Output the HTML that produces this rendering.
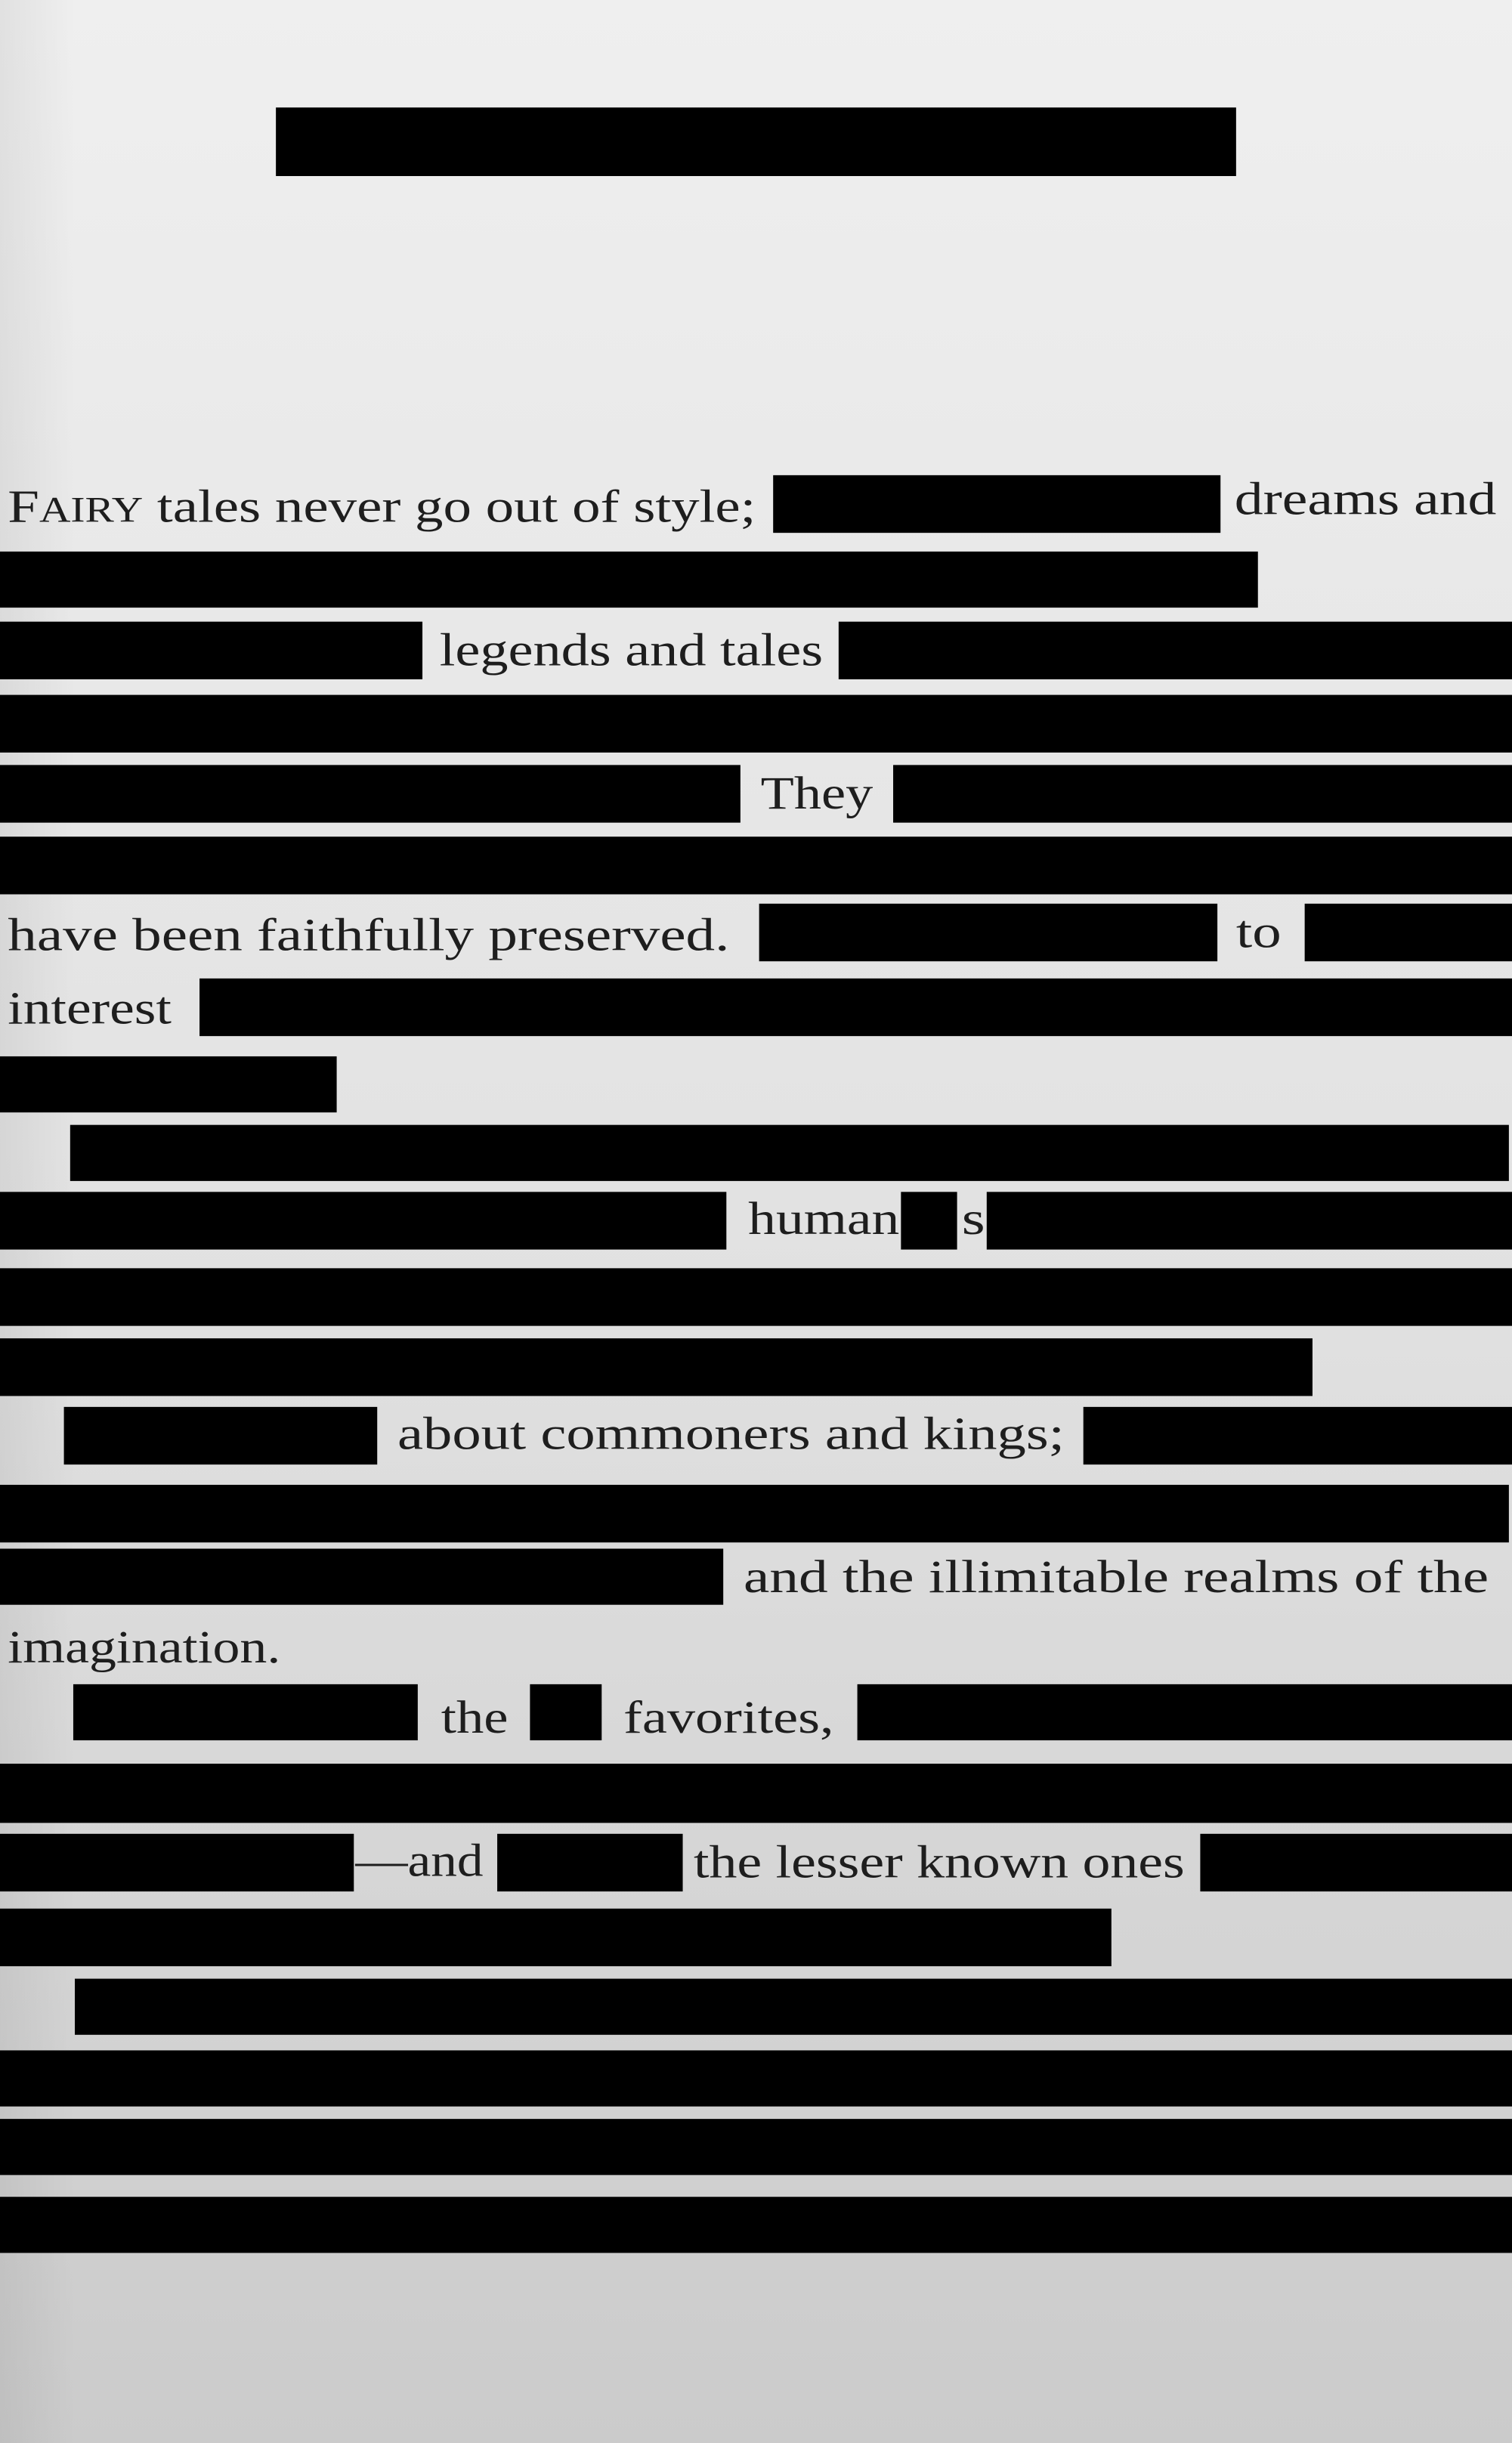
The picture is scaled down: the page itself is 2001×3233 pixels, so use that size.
<!DOCTYPE html>
<html><head><meta charset="utf-8"><style>
html,body{margin:0;padding:0;width:2001px;height:3233px;overflow:hidden;}
svg{display:block}
text{font-family:"Liberation Serif",serif;font-size:30px;fill:#1e1e1e}
</style></head><body>
<svg width="2001" height="3233" viewBox="0 0 970 1568" preserveAspectRatio="none" xmlns="http://www.w3.org/2000/svg">
<defs><linearGradient id="g" x1="0" y1="0" x2="0" y2="1">
<stop offset="0" stop-color="#efefef"/><stop offset="0.5" stop-color="#e2e2e2"/><stop offset="1" stop-color="#cbcbcb"/></linearGradient>
<linearGradient id="h" x1="0" y1="0" x2="1" y2="0">
<stop offset="0" stop-color="#000" stop-opacity="0.06"/><stop offset="0.05" stop-color="#000" stop-opacity="0"/></linearGradient></defs>
<rect width="970" height="1568" fill="url(#g)"/>
<rect width="970" height="1568" fill="url(#h)"/>
<g fill="#000">
<rect x="177" y="69" width="616" height="44"/>
<rect x="496" y="305" width="287" height="37"/>
<rect x="0" y="354" width="807" height="36"/>
<rect x="0" y="399" width="271" height="37"/>
<rect x="538" y="399" width="432" height="37"/>
<rect x="0" y="446" width="970" height="37"/>
<rect x="0" y="491" width="475" height="37"/>
<rect x="573" y="491" width="397" height="37"/>
<rect x="0" y="537" width="970" height="37"/>
<rect x="487" y="580" width="294" height="37"/>
<rect x="837" y="580" width="133" height="37"/>
<rect x="128" y="628" width="842" height="37"/>
<rect x="0" y="678" width="216" height="36"/>
<rect x="45" y="722" width="923" height="36"/>
<rect x="0" y="765" width="466" height="37"/>
<rect x="578" y="765" width="36" height="37"/>
<rect x="633" y="765" width="337" height="37"/>
<rect x="0" y="814" width="970" height="37"/>
<rect x="0" y="859" width="842" height="37"/>
<rect x="41" y="903" width="201" height="37"/>
<rect x="695" y="903" width="275" height="37"/>
<rect x="0" y="953" width="968" height="37"/>
<rect x="0" y="994" width="464" height="36"/>
<rect x="47" y="1081" width="221" height="36"/>
<rect x="340" y="1081" width="46" height="36"/>
<rect x="550" y="1081" width="420" height="36"/>
<rect x="0" y="1132" width="970" height="38"/>
<rect x="0" y="1177" width="227" height="37"/>
<rect x="319" y="1177" width="119" height="37"/>
<rect x="770" y="1177" width="200" height="37"/>
<rect x="0" y="1225" width="713" height="37"/>
<rect x="48" y="1270" width="922" height="36"/>
<rect x="0" y="1316" width="970" height="36"/>
<rect x="0" y="1360" width="970" height="36"/>
<rect x="0" y="1410" width="970" height="36"/>
</g>
<text x="5" y="335" textLength="480" lengthAdjust="spacingAndGlyphs">F<tspan font-size="23">AIRY</tspan> tales never go out of style;</text>
<text x="792" y="330" textLength="168" lengthAdjust="spacingAndGlyphs">dreams and</text>
<text x="282" y="427" textLength="246" lengthAdjust="spacingAndGlyphs">legends and tales</text>
<text x="488" y="519" textLength="72" lengthAdjust="spacingAndGlyphs">They</text>
<text x="5" y="610" textLength="463" lengthAdjust="spacingAndGlyphs">have been faithfully preserved.</text>
<text x="793" y="608" textLength="29" lengthAdjust="spacingAndGlyphs">to</text>
<text x="5" y="657" textLength="105" lengthAdjust="spacingAndGlyphs">interest</text>
<text x="480" y="792" textLength="97" lengthAdjust="spacingAndGlyphs">human</text>
<text x="617" y="792" textLength="15" lengthAdjust="spacingAndGlyphs">s</text>
<text x="255" y="930" textLength="428" lengthAdjust="spacingAndGlyphs">about commoners and kings;</text>
<text x="477" y="1022" textLength="478" lengthAdjust="spacingAndGlyphs">and the illimitable realms of the</text>
<text x="5" y="1067" textLength="175" lengthAdjust="spacingAndGlyphs">imagination.</text>
<text x="283" y="1112" textLength="43" lengthAdjust="spacingAndGlyphs">the</text>
<text x="400" y="1112" textLength="135" lengthAdjust="spacingAndGlyphs">favorites,</text>
<text x="228" y="1204" textLength="82" lengthAdjust="spacingAndGlyphs">—and</text>
<text x="445" y="1205" textLength="315" lengthAdjust="spacingAndGlyphs">the lesser known ones</text>
</svg>
</body></html>
